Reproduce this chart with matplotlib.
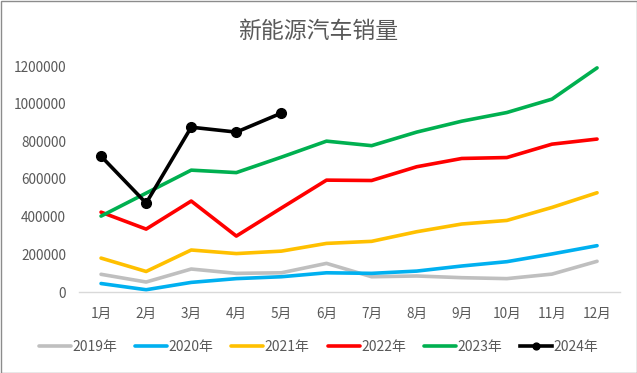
import matplotlib
matplotlib.use("Agg")
import matplotlib.pyplot as plt

plt.rcParams['font.family'] = ['Noto Sans CJK SC', 'DejaVu Sans']

months = ['1月', '2月', '3月', '4月', '5月', '6月', '7月', '8月', '9月', '10月', '11月', '12月']
s2019 = [94000, 53000, 122000, 99000, 102000, 152000, 81000, 85000, 76000, 71000, 95000, 163000]
s2020 = [45000, 12000, 51000, 71000, 81000, 102000, 99000, 111000, 138000, 161000, 202000, 246000]
s2021 = [180000, 109000, 223000, 204000, 217000, 258000, 269000, 320000, 361000, 380000, 449000, 527000]
s2022 = [424000, 334000, 483000, 297000, 446000, 594000, 592000, 665000, 709000, 714000, 785000, 812000]
s2023 = [403000, 525000, 647000, 634000, 716000, 801000, 777000, 849000, 907000, 953000, 1024000, 1190000]
s2024 = [721000, 472000, 875000, 849000, 950000]
yticks = [0, 200000, 400000, 600000, 800000, 1000000, 1200000]

fig = plt.figure(figsize=(6.37, 3.73), dpi=100)
ax = fig.add_axes([78.5/637, 1 - 292/373, (619.6-78.5)/637, (292-66)/373])

x = list(range(len(months)))
lw = 2.6
ax.plot(x, s2019, color='#BFBFBF', lw=lw, label='2019年', solid_capstyle='round')
ax.plot(x, s2020, color='#00B0F0', lw=lw, label='2020年', solid_capstyle='round')
ax.plot(x, s2021, color='#FFC000', lw=lw, label='2021年', solid_capstyle='round')
ax.plot(x, s2022, color='#FF0000', lw=lw, label='2022年', solid_capstyle='round')
ax.plot(x, s2023, color='#00B050', lw=lw, label='2023年', solid_capstyle='round')
ax.plot(x[:len(s2024)], s2024, color='black', lw=lw, marker='o', markersize=7, label='2024年')

ax.set_xlim(-0.5, 11.5)
ax.set_ylim(0, 1200000)
ax.set_xticks(x)
ax.set_xticklabels(months)
ax.set_yticks(yticks)
ax.set_yticklabels([str(v) for v in yticks])
ax.tick_params(axis='both', length=0, colors='#595959', labelsize=9.8)
ax.tick_params(axis='x', pad=11)
ax.tick_params(axis='y', pad=9)
for s in ['left', 'right', 'top']:
    ax.spines[s].set_visible(False)
ax.spines['bottom'].set_color('#D9D9D9')
ax.spines['bottom'].set_linewidth(1)

fig.text(0.5, 1 - 31/373, '新能源汽车销量', ha='center', va='center', fontsize=16.5,
         color='#595959', fontweight='light')

leg = fig.legend(loc='center', bbox_to_anchor=(0.5, 1 - 347/373), ncol=6, frameon=False,
                 fontsize=10, handlelength=2.3, columnspacing=1.3, handletextpad=0.1,
                 labelcolor='#595959', markerscale=0.7)

fig.patches.append(plt.Rectangle((0.5/637, 0.5/373), 1 - 1/637, 1 - 1/373, transform=fig.transFigure,
                                 fill=False, edgecolor='#8C8C8C', lw=1))
fig.savefig('out.png', dpi=100)
